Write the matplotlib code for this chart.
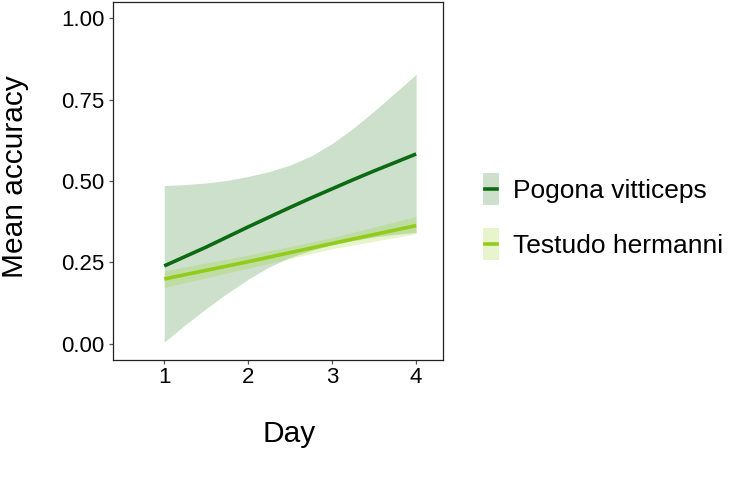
import matplotlib
matplotlib.use("Agg")
import matplotlib.pyplot as plt
from matplotlib.patches import Rectangle
from matplotlib.lines import Line2D
from matplotlib.legend_handler import HandlerBase

plt.rcParams['font.family'] = ['Liberation Sans', 'DejaVu Sans']

# Pogona vitticeps (model prediction with CI)
pog_day = [1.0, 1.25, 1.5, 1.75, 2.0, 2.25, 2.5, 2.75, 3.0, 3.25, 3.5, 3.75, 4.0]
pog_mean = [0.239, 0.268, 0.297, 0.328, 0.359, 0.389, 0.419, 0.448, 0.476, 0.504, 0.531, 0.557, 0.583]
pog_low = [0.005, 0.058, 0.108, 0.155, 0.198, 0.236, 0.265, 0.287, 0.304, 0.317, 0.328, 0.336, 0.342]
pog_high = [0.486, 0.489, 0.494, 0.502, 0.514, 0.529, 0.549, 0.577, 0.615, 0.662, 0.715, 0.771, 0.828]

# Testudo hermanni
tes_day = [1.0, 2.0, 3.0, 4.0]
tes_mean = [0.199, 0.252, 0.308, 0.363]
tes_low = [0.173, 0.232, 0.292, 0.338]
tes_high = [0.224, 0.272, 0.326, 0.391]

species = ["Pogona vitticeps", "Testudo hermanni"]
line_colors = ["#0c6b12", "#92cc1a"]
fill_colors = ["#006400", "#8fce00"]
fill_alpha = 0.2

x_ticks = [1, 2, 3, 4]
y_ticks = [0.00, 0.25, 0.50, 0.75, 1.00]
y_ticklabels = ["0.00", "0.25", "0.50", "0.75", "1.00"]

fig = plt.figure(figsize=(7.53, 4.83), dpi=100)
ax = fig.add_axes([113/753, 1-360/483, 330/753, 358/483])

ax.fill_between(pog_day, pog_low, pog_high, color=fill_colors[0], alpha=fill_alpha, linewidth=0)
ax.fill_between(tes_day, tes_low, tes_high, color=fill_colors[1], alpha=fill_alpha, linewidth=0)
ax.plot(pog_day, pog_mean, color=line_colors[0], linewidth=2.6, solid_capstyle='butt')
ax.plot(tes_day, tes_mean, color=line_colors[1], linewidth=2.6, solid_capstyle='butt')

ax.set_xlim(0.39, 4.32)
ax.set_ylim(-0.05, 1.05)
ax.set_xticks(x_ticks)
ax.set_yticks(y_ticks)
ax.set_yticklabels(y_ticklabels)
ax.tick_params(axis='both', labelsize=16, length=3, width=0.9, color='#555555', labelcolor='black')
ax.tick_params(axis='y', pad=3)
ax.tick_params(axis='x', pad=2)
for s in ax.spines.values():
    s.set_color('#222222')
    s.set_linewidth(0.9)

ax.set_xlabel("Day", fontsize=21.5)
ax.set_ylabel("Mean accuracy", fontsize=21.5)
ax.xaxis.label.set_verticalalignment('center')
ax.xaxis.set_label_coords((289.5-113)/330, -(434-360)/358)
ax.yaxis.label.set_verticalalignment('center')
ax.yaxis.set_label_coords(-(113-15)/330, (360-177)/358)


class KeyHandler(HandlerBase):
    def __init__(self, fc, lc):
        super().__init__()
        self.fc = fc
        self.lc = lc

    def create_artists(self, legend, orig_handle, xdescent, ydescent, width, height, fontsize, trans):
        r = Rectangle((-xdescent, -ydescent - 3), width, height + 6, facecolor=self.fc,
                      alpha=fill_alpha, edgecolor='none', transform=trans)
        l = Line2D([-xdescent + 1.5, -xdescent + width - 1.5], [-ydescent + height/2]*2,
                   color=self.lc, linewidth=2.6, transform=trans)
        return [r, l]


h1 = Line2D([], [])
h2 = Line2D([], [])
leg = fig.legend([h1, h2], species,
                 handler_map={h1: KeyHandler(fill_colors[0], line_colors[0]),
                              h2: KeyHandler(fill_colors[1], line_colors[1])},
                 loc='center left', bbox_to_anchor=(459/753, 1-218/483),
                 frameon=False, fontsize=19, handlelength=0.6, handleheight=1.0,
                 handletextpad=0.55, labelspacing=1.1)

fig.savefig("out.png", dpi=100)
